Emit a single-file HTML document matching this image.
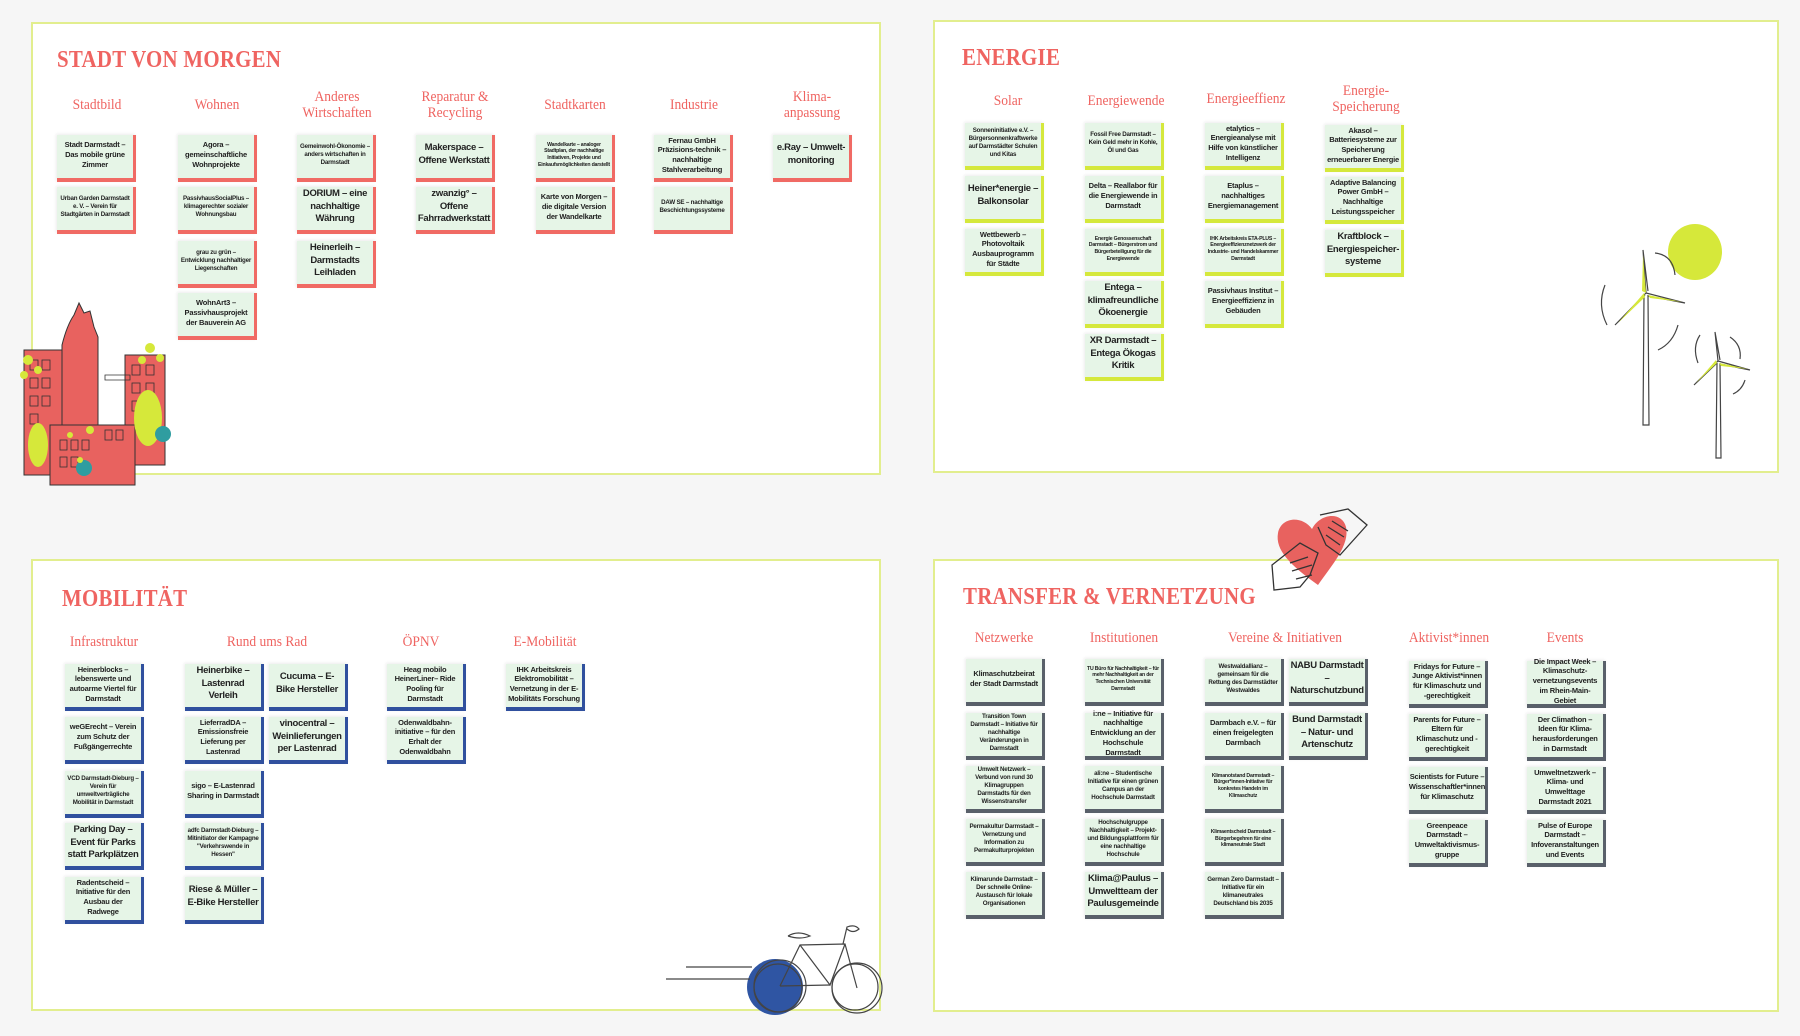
<!DOCTYPE html>
<html><head><meta charset="utf-8"><style>
*{margin:0;padding:0;box-sizing:border-box}
body{width:1800px;height:1036px;background:#f6f6f6;position:relative;overflow:hidden;font-family:"Liberation Sans",sans-serif}
.p{position:absolute;background:#fff;border:2px solid #e2ee8e}
.t{position:absolute;font-family:"Liberation Serif",serif;font-weight:bold;font-size:24px;color:#ef6461;letter-spacing:0.3px;transform:scaleX(0.87);transform-origin:0 0;white-space:nowrap}
.h{position:absolute;width:130px;text-align:center;font-family:"Liberation Serif",serif;font-size:15px;line-height:16px;color:#ef6461;transform:scaleX(0.9)}
.c{position:absolute;width:79px;height:47px;background:#e6f5e7;border-right:3px solid;border-bottom:4px solid;display:flex;align-items:center;justify-content:center;text-align:center;font-weight:bold;font-size:7.5px;line-height:1.3;color:#222;padding:0 2px 3px;letter-spacing:-0.2px;box-shadow:-1px -1px 3px rgba(0,0,0,.08)}
.L{font-size:9.5px;line-height:1.35;letter-spacing:-0.3px}
.S{font-size:6.2px;line-height:1.3}
.X{font-size:5.2px;line-height:1.3}
.r{border-color:#f06a64}.g{border-color:#d5e83c}.b{border-color:#30509e}.k{border-color:#59606a}
</style></head><body>

<div class="p" style="left:31px;top:22px;width:850px;height:453px"></div>
<div class="p" style="left:933px;top:20px;width:846px;height:453px"></div>
<div class="p" style="left:31px;top:559px;width:850px;height:452px"></div>
<div class="p" style="left:933px;top:559px;width:846px;height:453px"></div>

<!-- STADT VON MORGEN -->
<div class="t" style="left:57px;top:47px">STADT VON MORGEN</div>
<div class="h" style="left:32px;top:97px">Stadtbild</div>
<div class="h" style="left:152px;top:97px">Wohnen</div>
<div class="h" style="left:272px;top:89px">Anderes<br>Wirtschaften</div>
<div class="h" style="left:390px;top:89px">Reparatur &amp;<br>Recycling</div>
<div class="h" style="left:510px;top:97px">Stadtkarten</div>
<div class="h" style="left:629px;top:97px">Industrie</div>
<div class="h" style="left:747px;top:89px">Klima-<br>anpassung</div>

<div class="c r" style="left:57px;top:135px">Stadt Darmstadt – Das mobile grüne Zimmer</div>
<div class="c r S" style="left:57px;top:187px">Urban Garden Darmstadt e. V. – Verein für Stadtgärten in Darmstadt</div>
<div class="c r" style="left:178px;top:135px">Agora – gemeinschaftliche Wohnprojekte</div>
<div class="c r S" style="left:178px;top:187px">PassivhausSocialPlus – klimagerechter sozialer Wohnungsbau</div>
<div class="c r S" style="left:178px;top:241px">grau zu grün – Entwicklung nachhaltiger Liegenschaften</div>
<div class="c r" style="left:178px;top:293px">WohnArt3 – Passivhausprojekt der Bauverein AG</div>
<div class="c r S" style="left:297px;top:135px">Gemeinwohl-Ökonomie – anders wirtschaften in Darmstadt</div>
<div class="c r L" style="left:297px;top:187px">DORIUM – eine nachhaltige Währung</div>
<div class="c r L" style="left:297px;top:241px">Heinerleih – Darmstadts Leihladen</div>
<div class="c r L" style="left:416px;top:135px">Makerspace – Offene Werkstatt</div>
<div class="c r L" style="left:416px;top:187px">zwanzig° – Offene Fahrradwerkstatt</div>
<div class="c r X" style="left:536px;top:135px">Wandelkarte – analoger Stadtplan, der nachhaltige Initiativen, Projekte und Einkaufsmöglichkeiten darstellt</div>
<div class="c r" style="left:536px;top:187px">Karte von Morgen – die digitale Version der Wandelkarte</div>
<div class="c r" style="left:654px;top:135px">Fernau GmbH Präzisions-technik – nachhaltige Stahlverarbeitung</div>
<div class="c r S" style="left:654px;top:187px">DAW SE – nachhaltige Beschichtungssysteme</div>
<div class="c r L" style="left:773px;top:135px">e.Ray – Umwelt-monitoring</div>

<svg style="position:absolute;left:10px;top:300px" width="175" height="190" viewBox="0 0 175 190">
 <g stroke="#333" stroke-width="1" fill="#e8625f">
  <rect x="14" y="50" width="40" height="125"/>
  <path d="M52 180 V45 q5 -20 12 -30 l5 -12 l5 10 l6 -2 l4 16 l4 10 V180 Z"/>
  <rect x="115" y="55" width="40" height="110"/>
  <rect x="40" y="125" width="85" height="60"/>
 </g>
 <g fill="none" stroke="#333" stroke-width="0.8">
  <rect x="20" y="60" width="8" height="10"/><rect x="32" y="60" width="8" height="10"/><rect x="20" y="78" width="8" height="10"/><rect x="32" y="78" width="8" height="10"/><rect x="20" y="96" width="8" height="10"/><rect x="32" y="96" width="8" height="10"/><rect x="20" y="114" width="8" height="10"/>
  <rect x="122" y="65" width="8" height="10"/><rect x="136" y="65" width="8" height="10"/><rect x="122" y="83" width="8" height="10"/><rect x="136" y="83" width="8" height="10"/><rect x="122" y="101" width="8" height="10"/>
  <rect x="50" y="140" width="7" height="10"/><rect x="61" y="140" width="7" height="10"/><rect x="72" y="140" width="7" height="10"/><rect x="50" y="157" width="7" height="10"/><rect x="61" y="157" width="7" height="10"/><rect x="95" y="130" width="7" height="10"/><rect x="106" y="130" width="7" height="10"/>
  <path d="M95 75 h25 v5 h-25 z"/>
 </g>
 <ellipse cx="28" cy="145" rx="10" ry="22" fill="#d6e83a"/>
 <ellipse cx="138" cy="118" rx="14" ry="28" fill="#d6e83a"/>
 <circle cx="153" cy="134" r="8" fill="#2f9da0"/>
 <circle cx="74" cy="168" r="8" fill="#2f9da0"/>
 <g fill="#d6e83a"><circle cx="18" cy="60" r="5"/><circle cx="28" cy="70" r="4"/><circle cx="14" cy="75" r="4"/><circle cx="140" cy="48" r="5"/><circle cx="150" cy="58" r="4"/><circle cx="132" cy="60" r="4"/><circle cx="80" cy="130" r="4"/><circle cx="60" cy="135" r="3"/><circle cx="70" cy="160" r="3"/></g>
</svg>

<!-- ENERGIE -->
<div class="t" style="left:962px;top:45px">ENERGIE</div>
<div class="h" style="left:943px;top:93px">Solar</div>
<div class="h" style="left:1061px;top:93px">Energiewende</div>
<div class="h" style="left:1181px;top:91px">Energieeffienz</div>
<div class="h" style="left:1301px;top:83px">Energie-<br>Speicherung</div>

<div class="c g S" style="left:965px;top:123px">Sonneninitiative e.V. – Bürgersonnenkraftwerke auf Darmstädter Schulen und Kitas</div>
<div class="c g L" style="left:965px;top:176px">Heiner*energie – Balkonsolar</div>
<div class="c g" style="left:965px;top:229px">Wettbewerb – Photovoltaik Ausbauprogramm für Städte</div>
<div class="c g S" style="left:1085px;top:123px">Fossil Free Darmstadt – Kein Geld mehr in Kohle, Öl und Gas</div>
<div class="c g" style="left:1085px;top:176px">Delta – Reallabor für die Energiewende in Darmstadt</div>
<div class="c g X" style="left:1085px;top:229px">Energie Genossenschaft Darmstadt – Bürgerstrom und Bürgerbeteiligung für die Energiewende</div>
<div class="c g L" style="left:1085px;top:281px">Entega – klimafreundliche Ökoenergie</div>
<div class="c g L" style="left:1085px;top:334px">XR Darmstadt – Entega Ökogas Kritik</div>
<div class="c g" style="left:1205px;top:123px">etalytics – Energieanalyse mit Hilfe von künstlicher Intelligenz</div>
<div class="c g" style="left:1205px;top:176px">Etaplus – nachhaltiges Energiemanagement</div>
<div class="c g X" style="left:1205px;top:229px">IHK Arbeitskreis ETA-PLUS – Energieeffizienznetzwerk der Industrie- und Handelskammer Darmstadt</div>
<div class="c g" style="left:1205px;top:281px">Passivhaus Institut – Energieeffizienz in Gebäuden</div>
<div class="c g" style="left:1325px;top:125px">Akasol – Batteriesysteme zur Speicherung erneuerbarer Energie</div>
<div class="c g" style="left:1325px;top:177px">Adaptive Balancing Power GmbH – Nachhaltige Leistungsspeicher</div>
<div class="c g L" style="left:1325px;top:230px">Kraftblock – Energiespeicher-systeme</div>

<svg style="position:absolute;left:1590px;top:215px" width="180" height="250" viewBox="0 0 180 250">
 <ellipse cx="105" cy="37" rx="27" ry="28" fill="#d6e83a"/>
 <g fill="none" stroke="#444" stroke-width="1.2">
  <path d="M54 80 L53 210 h6 L58 80"/>
  <path d="M56 78 L53 35 L58 76"/><path d="M56 78 L95 88 L58 81"/><path d="M56 78 L25 110 L55 80"/>
  <path d="M127 148 L126 243 h5 L130 148"/>
  <path d="M128 146 L125 117 L130 145"/><path d="M128 146 L160 155 L130 149"/><path d="M128 146 L104 170 L127 148"/>
  <path d="M15 70 q-8 20 2 40"/><path d="M65 38 q18 2 20 22"/><path d="M88 110 q-5 18 -20 25"/>
  <path d="M110 120 q-8 12 -2 28"/><path d="M140 122 q12 8 10 22"/><path d="M155 165 q-3 10 -12 14"/>
 </g>
 <g fill="#d6e83a"><path d="M56 78 L53 40 L52 76Z"/><path d="M58 80 L92 87 L60 83Z"/><path d="M55 82 L28 108 L54 78Z"/><path d="M129 148 L158 154 L131 151Z"/><path d="M127 148 L106 168 L126 145Z"/></g>
</svg>

<!-- MOBILITÄT -->
<div class="t" style="left:62px;top:586px">MOBILITÄT</div>
<div class="h" style="left:39px;top:634px">Infrastruktur</div>
<div class="h" style="left:202px;top:634px">Rund ums Rad</div>
<div class="h" style="left:356px;top:634px">ÖPNV</div>
<div class="h" style="left:480px;top:634px">E-Mobilität</div>

<div class="c b" style="left:65px;top:664px">Heinerblocks – lebenswerte und autoarme Viertel für Darmstadt</div>
<div class="c b" style="left:65px;top:717px">weGErecht – Verein zum Schutz der Fußgängerrechte</div>
<div class="c b S" style="left:65px;top:771px">VCD Darmstadt-Dieburg – Verein für umweltverträgliche Mobilität in Darmstadt</div>
<div class="c b L" style="left:65px;top:823px">Parking Day – Event für Parks statt Parkplätzen</div>
<div class="c b" style="left:65px;top:877px">Radentscheid – Initiative für den Ausbau der Radwege</div>
<div class="c b L" style="left:185px;top:664px">Heinerbike – Lastenrad Verleih</div>
<div class="c b" style="left:185px;top:717px">LieferradDA – Emissionsfreie Lieferung per Lastenrad</div>
<div class="c b" style="left:185px;top:771px">sigo – E-Lastenrad Sharing in Darmstadt</div>
<div class="c b S" style="left:185px;top:823px">adfc Darmstadt-Dieburg – Mitinitiator der Kampagne "Verkehrswende in Hessen"</div>
<div class="c b L" style="left:185px;top:877px">Riese &amp; Müller – E-Bike Hersteller</div>
<div class="c b L" style="left:269px;top:664px">Cucuma – E-Bike Hersteller</div>
<div class="c b L" style="left:269px;top:717px">vinocentral – Weinlieferungen per Lastenrad</div>
<div class="c b" style="left:387px;top:664px">Heag mobilo HeinerLiner– Ride Pooling für Darmstadt</div>
<div class="c b" style="left:387px;top:717px">Odenwaldbahn-initiative – für den Erhalt der Odenwaldbahn</div>
<div class="c b" style="left:506px;top:664px">IHK Arbeitskreis Elektromobilität – Vernetzung in der E-Mobilitäts Forschung</div>

<svg style="position:absolute;left:660px;top:920px" width="230" height="100" viewBox="0 0 230 100">
 <circle cx="115" cy="67" r="28" fill="#2f55a3"/>
 <g fill="none" stroke="#444" stroke-width="1.2">
  <path d="M6 59 H90"/><path d="M26 47 H92"/>
  <circle cx="120" cy="66" r="26"/><circle cx="118" cy="68" r="24"/>
  <circle cx="197" cy="68" r="25"/><circle cx="195" cy="67" r="23"/>
  <path d="M120 66 L140 25 L185 24 L197 68"/><path d="M140 25 L170 65 L185 24"/><path d="M120 66 L170 65"/>
  <path d="M128 16 q10 -6 22 0 q-10 4 -22 0"/><path d="M183 24 L187 7 q8 -3 12 2 q-6 5 -12 0"/>
 </g>
</svg>

<!-- TRANSFER -->
<div class="t" style="left:963px;top:584px">TRANSFER &amp; VERNETZUNG</div>
<div class="h" style="left:939px;top:630px">Netzwerke</div>
<div class="h" style="left:1059px;top:630px">Institutionen</div>
<div class="h" style="left:1220px;top:630px">Vereine &amp; Initiativen</div>
<div class="h" style="left:1384px;top:630px">Aktivist*innen</div>
<div class="h" style="left:1500px;top:630px">Events</div>

<div class="c k" style="left:966px;top:659px">Klimaschutzbeirat der Stadt Darmstadt</div>
<div class="c k S" style="left:966px;top:713px">Transition Town Darmstadt – Initiative für nachhaltige Veränderungen in Darmstadt</div>
<div class="c k S" style="left:966px;top:766px">Umwelt Netzwerk – Verbund von rund 30 Klimagruppen Darmstadts für den Wissenstransfer</div>
<div class="c k S" style="left:966px;top:819px">Permakultur Darmstadt – Vernetzung und Information zu Permakulturprojekten</div>
<div class="c k S" style="left:966px;top:872px">Klimarunde Darmstadt – Der schnelle Online-Austausch für lokale Organisationen</div>
<div class="c k X" style="left:1085px;top:659px">TU Büro für Nachhaltigkeit – für mehr Nachhaltigkeit an der Technischen Universität Darmstadt</div>
<div class="c k" style="left:1085px;top:713px">i:ne – Initiative für nachhaltige Entwicklung an der Hochschule Darmstadt</div>
<div class="c k S" style="left:1085px;top:766px">ali:ne – Studentische Initiative für einen grünen Campus an der Hochschule Darmstadt</div>
<div class="c k S" style="left:1085px;top:819px">Hochschulgruppe Nachhaltigkeit – Projekt- und Bildungsplattform für eine nachhaltige Hochschule</div>
<div class="c k L" style="left:1085px;top:872px">Klima@Paulus – Umweltteam der Paulusgemeinde</div>
<div class="c k S" style="left:1205px;top:659px">Westwaldallianz – gemeinsam für die Rettung des Darmstädter Westwaldes</div>
<div class="c k" style="left:1205px;top:713px">Darmbach e.V. – für einen freigelegten Darmbach</div>
<div class="c k X" style="left:1205px;top:766px">Klimanotstand Darmstadt – Bürger*innen-Initiative für konkretes Handeln im Klimaschutz</div>
<div class="c k X" style="left:1205px;top:819px">Klimaentscheid Darmstadt – Bürgerbegehren für eine klimaneutrale Stadt</div>
<div class="c k S" style="left:1205px;top:872px">German Zero Darmstadt – Initiative für ein klimaneutrales Deutschland bis 2035</div>
<div class="c k L" style="left:1289px;top:659px">NABU Darmstadt – Naturschutzbund</div>
<div class="c k L" style="left:1289px;top:713px">Bund Darmstadt – Natur- und Artenschutz</div>
<div class="c k" style="left:1409px;top:661px">Fridays for Future – Junge Aktivist*innen für Klimaschutz und -gerechtigkeit</div>
<div class="c k" style="left:1409px;top:714px">Parents for Future – Eltern für Klimaschutz und -gerechtigkeit</div>
<div class="c k" style="left:1409px;top:767px">Scientists for Future – Wissenschaftler*innen für Klimaschutz</div>
<div class="c k" style="left:1409px;top:820px">Greenpeace Darmstadt – Umweltaktivismus-gruppe</div>
<div class="c k" style="left:1527px;top:661px">Die Impact Week – Klimaschutz-vernetzungsevents im Rhein-Main-Gebiet</div>
<div class="c k" style="left:1527px;top:714px">Der Climathon – Ideen für Klima-herausforderungen in Darmstadt</div>
<div class="c k" style="left:1527px;top:767px">Umweltnetzwerk – Klima- und Umwelttage Darmstadt 2021</div>
<div class="c k" style="left:1527px;top:820px">Pulse of Europe Darmstadt – Infoveranstaltungen und Events</div>

<svg style="position:absolute;left:1270px;top:505px" width="100" height="90" viewBox="0 0 100 90">
 <path d="M48 80 C20 60 5 45 8 28 C11 12 32 10 42 24 C50 8 72 6 76 22 C80 40 62 60 48 80Z" fill="#e8625f"/>
 <g fill="none" stroke="#333" stroke-width="1.3">
  <path d="M4 85 L2 60 L30 38 L48 48 L40 70 L30 82 Z"/>
  <path d="M20 58 l18 -6 M22 66 l20 -6 M26 74 l16 -4"/>
  <path d="M50 10 L78 4 L97 20 L70 50 L56 40 L48 22"/>
  <path d="M58 22 l16 10 M56 30 l14 10 M62 16 l16 10"/>
 </g>
</svg>

</body></html>
